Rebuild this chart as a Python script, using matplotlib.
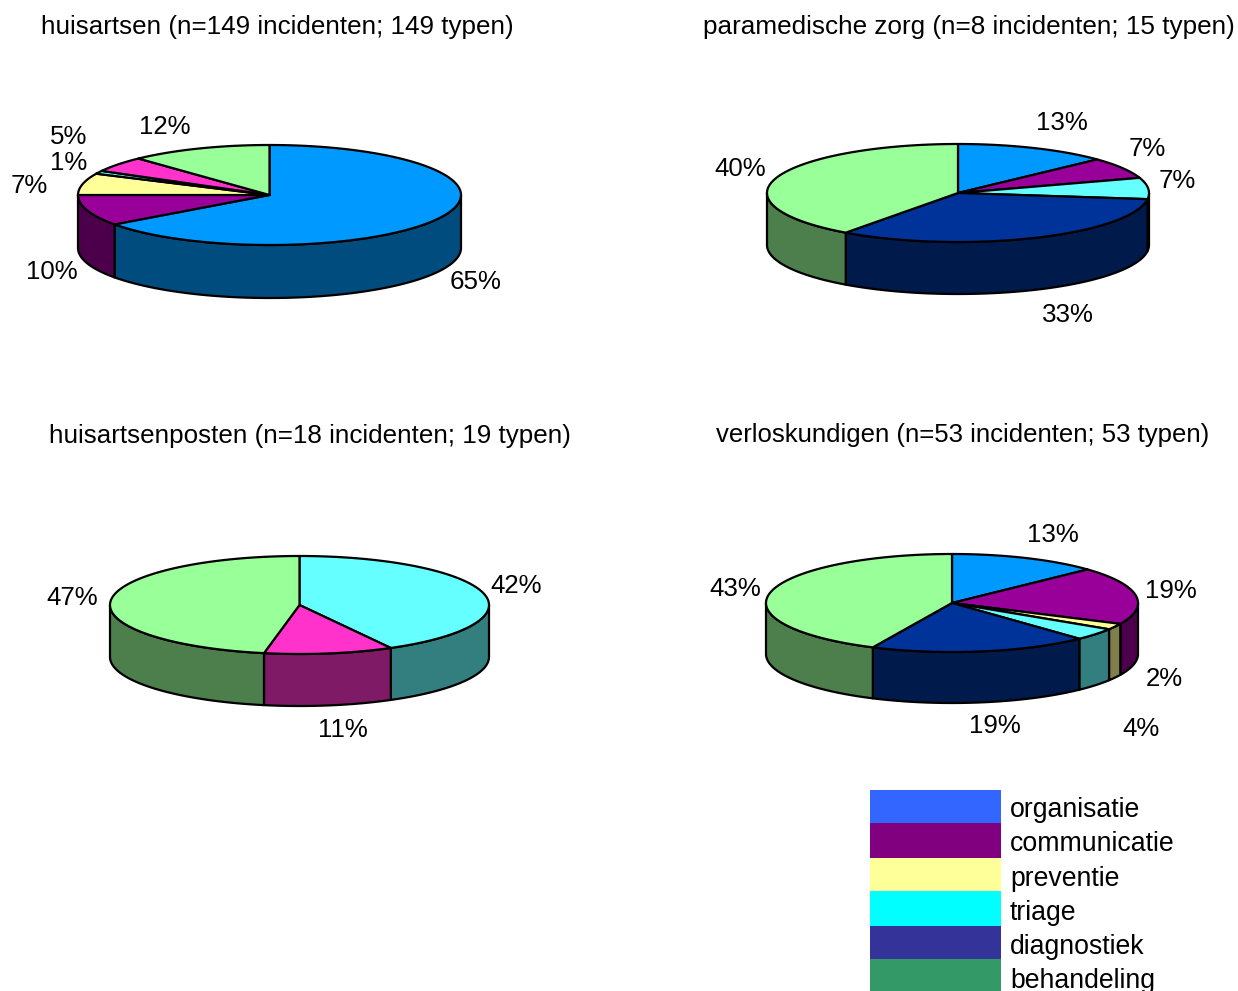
import numpy as np
import matplotlib
matplotlib.use("Agg")
import matplotlib.pyplot as plt
from matplotlib.patches import Polygon, Rectangle

plt.rcParams['font.family'] = ['Liberation Sans', 'DejaVu Sans']

# ---- data ----
titles = ["huisartsen (n=149 incidenten; 149 typen)",
          "paramedische zorg (n=8 incidenten; 15 typen)",
          "huisartsenposten (n=18 incidenten; 19 typen)",
          "verloskundigen (n=53 incidenten; 53 typen)"]
huisartsen_vals = [65, 10, 7, 1, 5, 12]
huisartsen_cats = ["org", "com", "pre", "tri", "pink", "beh"]
paramedisch_vals = [13, 7, 7, 33, 40]
paramedisch_cats = ["org", "com", "tri", "dia", "beh"]
posten_vals = [42, 11, 47]
posten_cats = ["tri", "pink", "beh"]
verlos_vals = [13, 19, 2, 4, 19, 43]
verlos_cats = ["org", "com", "pre", "tri", "dia", "beh"]
legend_labels = ["organisatie", "communicatie", "preventie", "triage", "diagnostiek", "behandeling"]

# ---- styles ----
top_col = dict(org="#0099FF", com="#990099", pre="#FFFF99", tri="#66FFFF",
               dia="#003399", pink="#FF33CC", beh="#99FF99")
side_col = dict(org="#004C7F", com="#4C004C", pre="#7F7F4C", tri="#337F7F",
                dia="#001A4C", pink="#7F1A66", beh="#4C7F4C")
legend_colors = ["#3366FF", "#800080", "#FFFF99", "#00FFFF", "#333399", "#339966"]
legend_edges = [790, 823, 858, 891, 926, 959, 991]
legend_base = [817, 851, 886, 920, 954, 988]

FS = 18.6
fig = plt.figure(figsize=(12.38, 9.91), dpi=100)
ax = fig.add_axes([0, 0, 1, 1])
ax.set_xlim(0, 1238)
ax.set_ylim(991, 0)
ax.axis("off")


def pie3d(vals, cats, cx, cy, rx, ry, depth, label_pos):
    edges = np.cumsum([0] + list(vals)) / sum(vals) * 2 * np.pi
    px = lambda t: cx + rx * np.sin(t)
    py = lambda t: cy - ry * np.cos(t)
    # side walls (front half only)
    for i, c in enumerate(cats):
        a, b = max(edges[i], np.pi / 2), min(edges[i + 1], 3 * np.pi / 2)
        if b <= a:
            continue
        t = np.linspace(a, b, 120)
        xs = np.r_[px(t), px(t[::-1])]
        ys = np.r_[py(t), py(t[::-1]) + depth]
        ax.add_patch(Polygon(np.c_[xs, ys], closed=True, fc=side_col[c], ec="black",
                             lw=1.6, joinstyle="round", zorder=2))
    # top slices
    for i, c in enumerate(cats):
        t = np.linspace(edges[i], edges[i + 1], 200)
        xs = np.r_[cx, px(t)]
        ys = np.r_[cy, py(t)]
        ax.add_patch(Polygon(np.c_[xs, ys], closed=True, fc=top_col[c], ec="black",
                             lw=1.6, joinstyle="round", zorder=3))
    for v, (lx, ly) in zip(vals, label_pos):
        ax.text(lx, ly, f"{v}%", ha="center", va="center", fontsize=FS, color="black", zorder=5)


pie3d(huisartsen_vals, huisartsen_cats, 269.5, 195, 191.5, 50, 53,
      [(476, 282), (52, 272), (29, 186), (69, 163), (69, 137), (165, 127)])
pie3d(paramedisch_vals, paramedisch_cats, 958, 193, 191, 49, 52,
      [(1062, 123), (1147, 149), (1177, 181), (1068, 315), (740, 169)])
pie3d(posten_vals, posten_cats, 299.5, 605, 189.5, 49, 52,
      [(516, 586), (343, 730), (72, 598)])
pie3d(verlos_vals, verlos_cats, 952, 603, 186, 49, 51,
      [(1053, 535), (1171, 591), (1164, 679), (1141, 729), (995, 726), (735, 589)])

title_sizes = [18.7, 18.77, 18.7, 18.55]
for title, fs, (tx, ty) in zip(titles, title_sizes, [(41, 34), (703, 34), (49, 443), (716, 442)]):
    ax.text(tx, ty, title, ha="left", va="baseline", fontsize=fs, color="black")

for i, lab in enumerate(legend_labels):
    ax.add_patch(Rectangle((870, legend_edges[i]), 131, legend_edges[i + 1] - legend_edges[i],
                           fc=legend_colors[i], ec="none"))
    ax.text(1010, legend_base[i], lab, ha="left", va="baseline", fontsize=19.2, color="black")

fig.savefig("out.png", dpi=100)
